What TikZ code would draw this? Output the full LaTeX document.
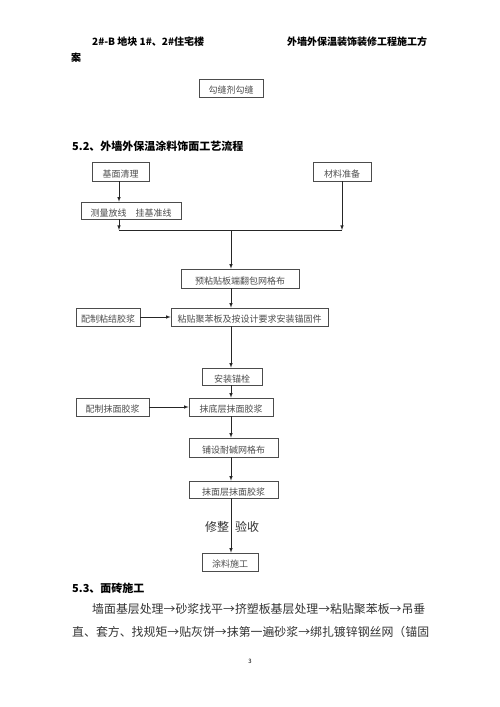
\documentclass[tikz,border=0pt]{standalone}
\usepackage{fontspec}
\setmainfont{Noto Sans CJK SC}
\usepackage{tikz}
\usetikzlibrary{calc}
\usetikzlibrary{positioning}
\usetikzlibrary{shapes}
\tikzstyle{arrow}= [line width=0.6pt, draw=black!85, ->, >=latex]
\tikzstyle{line}= [line width=0.6pt, draw=black!85]

\begin{document}
\begin{tikzpicture}[
		x=1pt, y=-1pt,
    box/.style={
    draw=black!70, line width=0.6pt, inner sep=0pt, minimum height=18pt,
    text height=11pt, text depth=0pt,
    font=\fontsize{9}{9}\selectfont, text=black!70
    },
    head/.style={anchor=west, inner sep=0pt, font=\fontsize{11}{11}\selectfont\bfseries},
    para/.style={anchor=west, inner sep=0pt, font=\fontsize{11.9}{12}\selectfont, text=black!80}
	]
  \useasboundingbox (0,0) rectangle (500,707);

  \node[head,font=\fontsize{10}{10}\selectfont\bfseries] (hdl) at (92,42) {2\#-B 地块 1\#、2\#住宅楼};
  \node[head,font=\fontsize{10}{10}\selectfont\bfseries] (hdr) at (287,42) {外墙外保温装饰装修工程施工方};
  \node[head,font=\fontsize{10}{10}\selectfont\bfseries] (hdc) at (71,58) {案};

  \node[box,minimum width=64pt] (gf) at (231,88) {勾缝剂勾缝};

  \node[head] (t52) at (72,146) {5.2、外墙外保温涂料饰面工艺流程};

  \node[box,minimum width=57pt,minimum height=19pt] (jm) at (120.5,171.5) {基面清理};
  \node[box,minimum width=58pt,minimum height=19pt] (cl) at (342,171.5) {材料准备};
  \node[box,minimum width=100pt,minimum height=17pt] (cf) at (131,210.5) {测量放线\hspace{9pt}挂基准线};
  \node[box,minimum width=118pt,minimum height=19pt] (yz) at (240,278.5) {预粘贴板端翻包网格布};
  \node[box,minimum width=157pt] (zt) at (249.5,317) {粘贴聚苯板及按设计要求安装锚固件};
  \node[box,minimum width=64pt] (pz) at (108,317) {配制粘结胶浆};
  \node[box,minimum width=60pt,minimum height=17pt] (mg) at (232,376.5) {安装锚栓};
  \node[box,minimum width=84pt] (md) at (231,407) {抹底层抹面胶浆};
  \node[box,minimum width=73pt] (pm) at (112.5,407) {配制抹面胶浆};
  \node[box,minimum width=89pt,minimum height=19pt] (ps) at (233.5,447.5) {铺设耐碱网格布};
  \node[box,minimum width=89pt,minimum height=17pt] (mm) at (233.5,489.5) {抹面层抹面胶浆};
  \node[box,minimum width=56pt] (tl) at (230,562) {涂料施工};

  \coordinate (jl) at (119,230);
  \coordinate (jr) at (342,230);
  \coordinate (jc) at (231,230);

  \draw[arrow] (jm.south -| jl) -- (cf.north -| jl);
  \draw[arrow] (cf.south -| jl) -- (jl);
  \draw[arrow] (cl.south) -- (jr);
  \draw[line] (jl) -- (jr);
  \draw[arrow] (jc) -- (yz.north -| jc);
  \draw[arrow] (yz.south -| jc) -- (zt.north -| jc);
  \draw[arrow] (pz) -- (zt);
  \draw[arrow] (zt.south -| jc) -- (mg.north -| jc);
  \draw[arrow] (mg.south -| jc) -- (md.north -| jc);
  \draw[arrow] (pm) -- (md);
  \draw[arrow] (md.south -| jc) -- (ps.north -| jc);
  \draw[arrow] (ps.south -| jc) -- (mm.north -| jc);
  \draw[arrow] (mm.south -| jc) -- (tl.north -| jc);

  \node[inner sep=0pt,font=\fontsize{12}{12}\selectfont,text=black!80] (xz) at (232,527) {修整\hspace{6pt}验收};

  \node[head] (t53) at (72,588) {5.3、面砖施工};
  \node[para] (p1) at (92,609) {墙面基层处理→砂浆找平→挤塑板基层处理→粘贴聚苯板→吊垂};
  \node[para] (p2) at (72,632) {直、套方、找规矩→贴灰饼→抹第一遍砂浆→绑扎镀锌钢丝网（锚固};
  \node[inner sep=0pt,font=\fontsize{6}{6}\selectfont] (pg) at (250,661) {3};
\end{tikzpicture}
\end{document}
